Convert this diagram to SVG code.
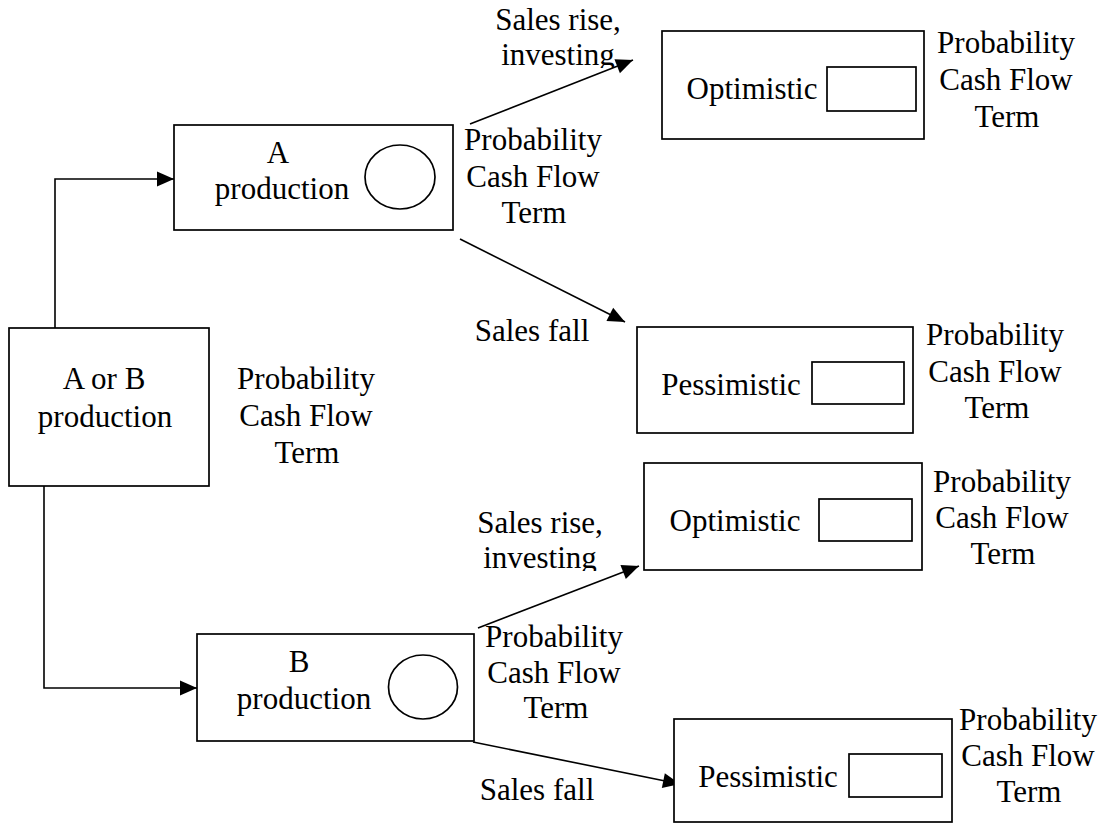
<svg xmlns="http://www.w3.org/2000/svg" width="1108" height="825" viewBox="0 0 1108 825">
  <style>
    .box { fill: #ffffff; stroke: #000000; stroke-width: 1.7; }
    .inner { fill: none; stroke: #000000; stroke-width: 1.7; }
    .wire { fill: none; stroke: #000000; stroke-width: 1.6; }
    text { font-family: "Liberation Serif", "Times New Roman", serif; font-size: 31px; fill: #000000; text-anchor: middle; }
  </style>
  <defs>
    <marker id="arrow" markerUnits="userSpaceOnUse" markerWidth="19" markerHeight="16" refX="17" refY="7.5" orient="auto" overflow="visible">
      <path d="M0,0 L17,7.5 L0,15 Z" fill="#000000"/>
    </marker>
    <!-- label boxes that cut off the descender of "investing" -->
    <clipPath id="clipRiseTop"><rect x="440" y="0" width="200" height="68"/></clipPath>
    <clipPath id="clipRiseBottom"><rect x="440" y="500" width="200" height="71"/></clipPath>
  </defs>

  <!-- connectors -->
  <g id="connectors">
    <polyline class="wire" points="55,328 55,179 174,179" marker-end="url(#arrow)"/>
    <polyline class="wire" points="44,486 44,688 197,688" marker-end="url(#arrow)"/>
    <line class="wire" x1="470" y1="124" x2="633" y2="60" marker-end="url(#arrow)"/>
    <line class="wire" x1="460" y1="239" x2="625" y2="322" marker-end="url(#arrow)"/>
    <line class="wire" x1="478" y1="628" x2="639" y2="566" marker-end="url(#arrow)"/>
    <line class="wire" x1="473" y1="742" x2="680" y2="784" marker-end="url(#arrow)"/>
  </g>

  <!-- root decision -->
  <g id="node-ab">
    <rect class="box" x="9" y="328" width="200" height="158"/>
    <text x="104" y="389">A or B</text>
    <text x="105" y="427">production</text>
  </g>
  <g id="label-ab">
    <text x="306" y="389">Probability</text>
    <text x="306" y="426">Cash Flow</text>
    <text x="307" y="463">Term</text>
  </g>

  <!-- A branch -->
  <g id="node-a">
    <rect class="box" x="174" y="125" width="279" height="105"/>
    <text x="278" y="163">A</text>
    <text x="282" y="199">production</text>
    <ellipse class="inner" cx="400" cy="177" rx="35" ry="32"/>
  </g>
  <g id="label-a">
    <text x="533" y="150">Probability</text>
    <text x="533" y="187">Cash Flow</text>
    <text x="534" y="223">Term</text>
  </g>
  <g id="edge-label-a-rise" clip-path="url(#clipRiseTop)">
    <text x="558" y="30">Sales rise,</text>
    <text x="558" y="65">investing</text>
  </g>
  <g id="edge-label-a-fall">
    <text x="532" y="341">Sales fall</text>
  </g>

  <g id="node-a-opt">
    <rect class="box" x="662" y="31" width="262" height="108"/>
    <text x="752" y="99">Optimistic</text>
    <rect class="inner" x="827" y="67" width="89" height="44"/>
  </g>
  <g id="label-a-opt">
    <text x="1006" y="53">Probability</text>
    <text x="1006" y="90">Cash Flow</text>
    <text x="1007" y="127">Term</text>
  </g>

  <g id="node-a-pes">
    <rect class="box" x="637" y="327" width="276" height="106"/>
    <text x="731" y="395">Pessimistic</text>
    <rect class="inner" x="812" y="362" width="92" height="42"/>
  </g>
  <g id="label-a-pes">
    <text x="995" y="345">Probability</text>
    <text x="995" y="382">Cash Flow</text>
    <text x="997" y="418">Term</text>
  </g>

  <!-- B branch -->
  <g id="node-b">
    <rect class="box" x="197" y="634" width="277" height="107"/>
    <text x="299" y="672">B</text>
    <text x="304" y="709">production</text>
    <ellipse class="inner" cx="423" cy="687" rx="34.5" ry="32"/>
  </g>
  <g id="label-b">
    <text x="554" y="647">Probability</text>
    <text x="554" y="683">Cash Flow</text>
    <text x="556" y="718">Term</text>
  </g>
  <g id="edge-label-b-rise" clip-path="url(#clipRiseBottom)">
    <text x="540" y="533">Sales rise,</text>
    <text x="540" y="568">investing</text>
  </g>
  <g id="edge-label-b-fall">
    <text x="537" y="800">Sales fall</text>
  </g>

  <g id="node-b-opt">
    <rect class="box" x="644" y="463" width="278" height="107"/>
    <text x="735" y="531">Optimistic</text>
    <rect class="inner" x="819" y="499" width="93" height="42"/>
  </g>
  <g id="label-b-opt">
    <text x="1002" y="492">Probability</text>
    <text x="1002" y="528">Cash Flow</text>
    <text x="1003" y="564">Term</text>
  </g>

  <g id="node-b-pes">
    <rect class="box" x="674" y="719" width="278" height="103"/>
    <text x="768" y="787">Pessimistic</text>
    <rect class="inner" x="849" y="754" width="93" height="43"/>
  </g>
  <g id="label-b-pes">
    <text x="1028" y="730">Probability</text>
    <text x="1028" y="766">Cash Flow</text>
    <text x="1029" y="802">Term</text>
  </g>
</svg>
